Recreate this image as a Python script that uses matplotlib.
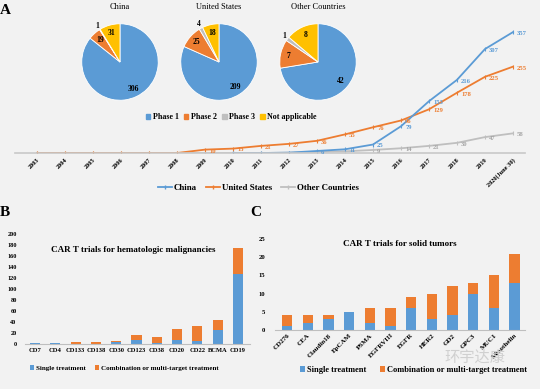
import numpy as np
import matplotlib
matplotlib.use('Agg')
import matplotlib.pyplot as plt
import matplotlib.patches as patches
from matplotlib.lines import Line2D

plt.rcParams['font.family'] = ['Liberation Serif', 'DejaVu Sans']
plt.rcParams['font.weight'] = 'bold'

BLUE = '#5b9bd5'
ORANGE = '#ed7d31'
GRAY = '#bfbfbf'
YELLOW = '#ffc000'

# panel A - trials per year (cumulative)
years = ['2003', '2004', '2005', '2006', '2007', '2008', '2009', '2010', '2011',
         '2012', '2013', '2014', '2015', '2016', '2017', '2018', '2019',
         '2020(June 30)']
china = [np.nan] * 7 + [0, 0, 1, 6, 11, 25, 79, 153, 216, 307, 357]
usa = [0, 0, 0, 0, 0, 0, 10, 13, 21, 27, 36, 55, 76, 96, 129, 178, 225, 255]
others = [0, 0, 0, 0, 0, 0, 0, 0, 0, 1, 3, 5, 9, 14, 21, 30, 47, 58]

# phase split per region
phases = ['Phase 1', 'Phase 2', 'Phase 3', 'Not applicable']
pie_titles = ['China', 'United States', 'Other Countries']
pie_china = [306, 19, 1, 31]
pie_usa = [209, 25, 4, 18]
pie_others = [42, 7, 1, 8]

# panel B - hematologic targets
heme_targets = ['CD7', 'CD4', 'CD133', 'CD138', 'CD30', 'CD123', 'CD38',
                'CD20', 'CD22', 'BCMA', 'CD19']
heme_single = [2, 2, 0, 0, 4, 8, 1, 7, 6, 26, 127]
heme_total = [2, 2, 3, 4, 6, 17, 12, 28, 32, 43, 174]

# panel C - solid tumor targets
solid_targets = ['CD276', 'CEA', 'Claudin18', 'EpCAM', 'PSMA', 'EGFRVIII',
                 'EGFR', 'HER2', 'GD2', 'GPC3', 'MUC1', 'Mesothelin']
solid_single = [1, 2, 3, 5, 2, 1, 6, 3, 4, 10, 6, 13]
solid_total = [4, 4, 4, 5, 6, 6, 9, 10, 12, 13, 15, 21]

W, H = 540, 389
fig = plt.figure(figsize=(5.4, 3.89), dpi=100)
fig.patch.set_facecolor('#f2f2f2')


def box(x0, y0, x1, y1):
    # pixel box (top-left origin) -> figure fraction rect
    return [x0 / W, 1 - y1 / H, (x1 - x0) / W, (y1 - y0) / H]


# ---- line chart (A) ----
ax = fig.add_axes(box(15, 25, 525, 153))
ax.set_facecolor('none')
x = np.arange(len(years))
series = [(china, BLUE, 'China', 6), (usa, ORANGE, 'United States', 1),
          (others, GRAY, 'Other Countries', 9)]
for vals, col, name, min_lab in reversed(series):
    ax.plot(x, vals, color=col, lw=1.3, marker='|', ms=3, mew=0.8, label=name)
    lab_col = '#a6a6a6' if col == GRAY else col
    for xi, v in zip(x, vals):
        if np.isnan(v) or v < min_lab:
            continue
        ax.annotate(str(v), (xi, v), xytext=(3, -1), textcoords='offset points',
                    ha='left', va='center', fontsize=4.8, color=lab_col)
ax.set_xlim(-0.79, 17.43)
ax.set_ylim(0, 378)
ax.set_yticks([])
ax.set_xticks(x)
ax.set_xticklabels(years, rotation=45, ha='right', rotation_mode='anchor',
                   fontsize=4.6)
ax.tick_params(axis='x', length=0, pad=3)
for s in ['top', 'left', 'right']:
    ax.spines[s].set_visible(False)
ax.spines['bottom'].set_color('#c8c8c8')
ax.spines['bottom'].set_linewidth(1.2)

handles = [Line2D([], [], color=c, lw=1.3, marker='|', ms=3, label=n)
           for _, c, n, _ in series]
fig.legend(handles=handles, loc='center', bbox_to_anchor=(258 / W, 1 - 188 / H),
           ncol=3, frameon=False, fontsize=6.4, handlelength=1.6,
           handletextpad=0.2, columnspacing=1.0)

# ---- pies ----
pie_colors = [BLUE, ORANGE, GRAY, YELLOW]
for cx, title, vals in zip([120, 219, 318], pie_titles,
                           [pie_china, pie_usa, pie_others]):
    pax = fig.add_axes(box(cx - 39, 23, cx + 39, 101))
    wedges, _ = pax.pie(vals, colors=pie_colors, startangle=90,
                        counterclock=False,
                        wedgeprops=dict(edgecolor='white', linewidth=0.6))
    pax.set_xlim(-1.02, 1.02)
    pax.set_ylim(-1.02, 1.02)
    total = sum(vals)
    for w, v in zip(wedges, vals):
        mid = np.deg2rad((w.theta1 + w.theta2) / 2)
        r = 0.78 if v / total > 0.04 else 1.12
        pax.text(r * np.cos(mid), r * np.sin(mid), str(v), ha='center',
                 va='center', fontsize=5.5)
    pax.set_title(title, fontsize=6, pad=10)

fig.legend(handles=[patches.Patch(color=c, label=p)
                    for c, p in zip(pie_colors, phases)],
           loc='center', bbox_to_anchor=(231 / W, 1 - 117 / H), ncol=4,
           frameon=False, fontsize=5.8, handlelength=0.6, handleheight=0.6,
           handletextpad=0.3, columnspacing=0.6)

fig.text(0 / W, 1 - 10 / H, 'A', fontsize=11, va='center', ha='left')


# ---- bar panels ----
def stacked(axb, cats, single, total):
    xb = np.arange(len(cats))
    combo = [t - s for s, t in zip(single, total)]
    axb.bar(xb, single, width=0.5, color=BLUE, label='Single treatment')
    axb.bar(xb, combo, width=0.5, bottom=single, color=ORANGE,
            label='Combination or multi-target treatment')
    axb.set_facecolor('none')
    axb.set_xticks(xb)
    for s in ['top', 'left', 'right']:
        axb.spines[s].set_visible(False)
    axb.spines['bottom'].set_color('#bfbfbf')
    axb.tick_params(length=0)
    return xb


axB = fig.add_axes(box(25, 234, 250, 344))
stacked(axB, heme_targets, heme_single, heme_total)
axB.set_xlim(-0.5, 10.6)
axB.set_ylim(0, 200)
axB.set_yticks(range(0, 201, 20))
axB.tick_params(axis='y', labelsize=4.5, pad=6)
axB.set_xticklabels(heme_targets, fontsize=4.7)
axB.tick_params(axis='x', pad=3)
axB.text(0.48, 0.85, 'CAR T trials for hematologic malignancies',
         transform=axB.transAxes, ha='center', va='center', fontsize=6.5)
axB.legend(loc='center left', bbox_to_anchor=(24 / W, 1 - 368 / H),
           bbox_transform=fig.transFigure, ncol=2, frameon=False, fontsize=5,
           handlelength=0.6, handleheight=0.6, handletextpad=0.3,
           columnspacing=1.2)
fig.text(0, 1 - 213 / H, 'B', fontsize=11, va='center', ha='left')

axC = fig.add_axes(box(275, 239, 525, 330))
stacked(axC, solid_targets, solid_single, solid_total)
axC.set_xlim(-0.58, 11.5)
axC.set_ylim(0, 25)
axC.set_yticks(range(0, 26, 5))
axC.tick_params(axis='y', labelsize=4.8, pad=7)
axC.set_xticklabels(solid_targets, fontsize=5, rotation=45, ha='right',
                    rotation_mode='anchor')
axC.tick_params(axis='x', pad=2)
axC.text(0.5, 0.95, 'CAR T trials for solid tumors', transform=axC.transAxes,
         ha='center', va='center', fontsize=6.5)
axC.legend(loc='center left', bbox_to_anchor=(292 / W, 1 - 370 / H),
           bbox_transform=fig.transFigure, ncol=2, frameon=False, fontsize=6,
           handlelength=0.6, handleheight=0.6, handletextpad=0.3,
           columnspacing=1.6)
fig.text(250 / W, 1 - 213 / H, 'C', fontsize=11, va='center', ha='left')

fig.text(475 / W, 1 - 357 / H, '环宇达康', fontsize=11, color='#d0d0d0',
         ha='center', va='center', family=['Noto Sans CJK SC', 'DejaVu Sans'],
         fontweight='normal')

fig.savefig('out.png', dpi=100, facecolor=fig.get_facecolor())
